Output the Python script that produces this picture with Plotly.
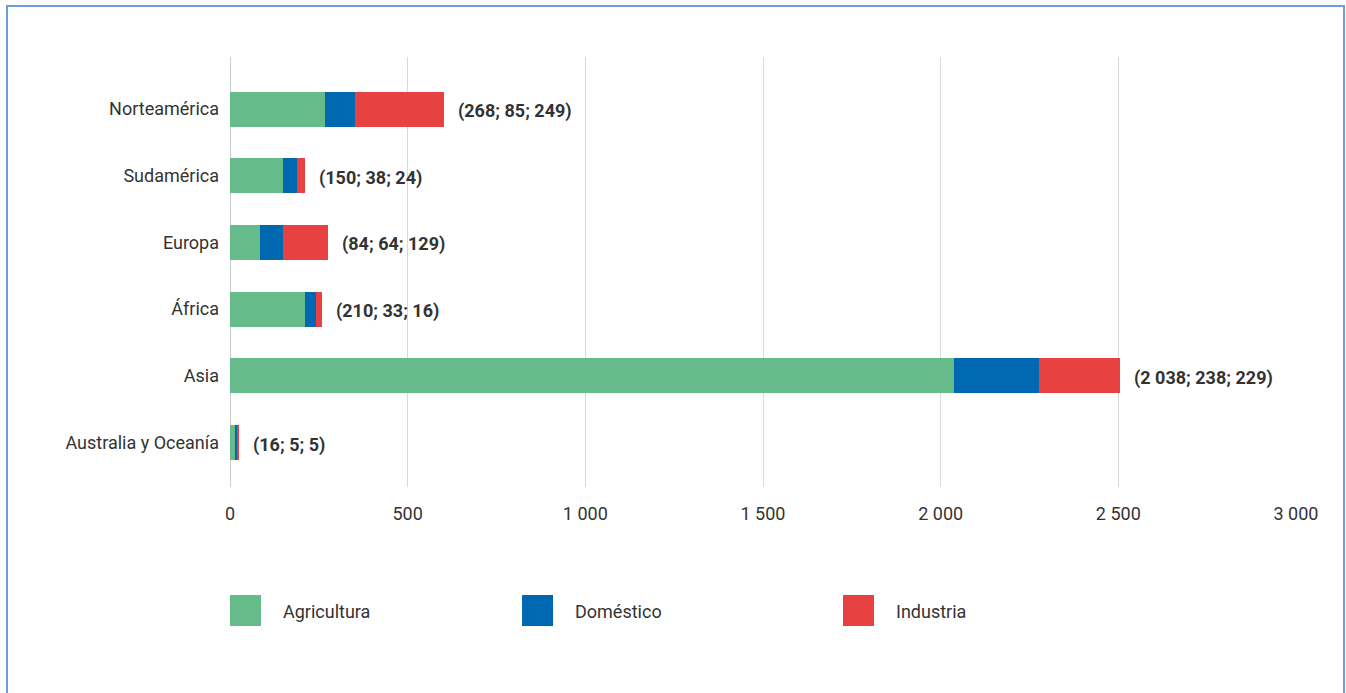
import plotly.graph_objects as go

# Water withdrawal by region and sector
regions = ["Norteamérica", "Sudamérica", "Europa", "África", "Asia", "Australia y Oceanía"]
agricultura = [268, 150, 84, 210, 2038, 16]
domestico = [85, 38, 64, 33, 238, 5]
industria = [249, 24, 129, 16, 229, 5]

series_names = ["Agricultura", "Doméstico", "Industria"]
colors = ["#66BB8A", "#0067B1", "#E84142"]

x_ticks = [0, 500, 1000, 1500, 2000, 2500, 3000]


def fmt(v):
    return f"{v:,}".replace(",", " ")


fig = go.Figure()
for name, vals, col in zip(series_names, [agricultura, domestico, industria], colors):
    fig.add_trace(go.Bar(
        y=regions, x=vals, name=name, orientation="h",
        marker=dict(color=col, line=dict(width=0)),
        width=0.525, showlegend=False, hoverinfo="x+name",
    ))

font_family = "Roboto, 'Open Sans', sans-serif"
text_color = "#333333"
fs = 18

# Value labels at the end of each stacked bar
annotations = []
for reg, a, d, i in zip(regions, agricultura, domestico, industria):
    annotations.append(dict(
        x=a + d + i, y=reg, xref="x", yref="y",
        text=f"<b>({fmt(a)}; {fmt(d)}; {fmt(i)})</b>",
        showarrow=False, xanchor="left", yanchor="middle", xshift=12, yshift=-2,
        font=dict(family=font_family, size=fs, color=text_color),
    ))

# Custom legend: large colour squares with labels
plot_l, plot_r, plot_t, plot_b = 230, 1296, 57, 487
pw, ph = plot_r - plot_l, plot_b - plot_t


def px_x(px):
    return (px - plot_l) / pw


def px_y(py):
    return (plot_b - py) / ph


shapes = []
legend_x = [230, 522, 843]
for name, col, lx in zip(series_names, colors, legend_x):
    shapes.append(dict(
        type="rect", xref="paper", yref="paper",
        x0=px_x(lx), x1=px_x(lx + 31), y0=px_y(626), y1=px_y(595),
        fillcolor=col, line=dict(width=0), layer="above",
    ))
    annotations.append(dict(
        x=px_x(lx + 51), y=px_y(611), xref="paper", yref="paper",
        text=name, showarrow=False, xanchor="left", yanchor="middle",
        font=dict(family=font_family, size=fs, color=text_color),
    ))

# Outer frame
shapes.append(dict(
    type="rect", xref="paper", yref="paper",
    x0=px_x(7), x1=px_x(1344), y0=px_y(720), y1=px_y(6),
    fillcolor="rgba(0,0,0,0)", line=dict(color="#6A9FD8", width=2), layer="above",
))

fig.update_layout(
    width=1346, height=693,
    margin=dict(l=plot_l, r=1346 - plot_r, t=plot_t, b=693 - plot_b),
    paper_bgcolor="white", plot_bgcolor="white",
    barmode="stack",
    separators=", ",
    font=dict(family=font_family, size=fs, color=text_color),
    xaxis=dict(
        range=[0, 3000], tickvals=x_ticks, tickformat=",d",
        showgrid=True, gridcolor="#D9D9D9", gridwidth=1,
        zeroline=True, zerolinecolor="#CCCCCC", zerolinewidth=1,
        showline=False, ticks="", ticklabelstandoff=14,
        tickfont=dict(size=fs, color=text_color), fixedrange=True,
    ),
    yaxis=dict(
        categoryorder="array", categoryarray=regions,
        range=[5.667, -0.78], showgrid=False, zeroline=False, showline=False,
        ticks="", ticklabelstandoff=10,
        tickfont=dict(size=fs, color=text_color), fixedrange=True,
    ),
    annotations=annotations, shapes=shapes,
    showlegend=False,
)

fig.write_html("out.html")
